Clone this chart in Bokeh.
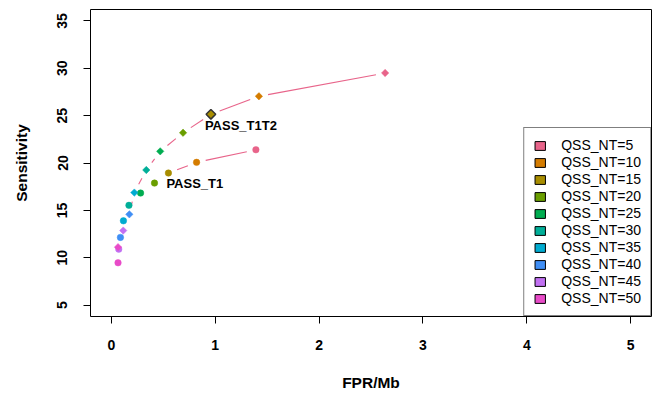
import math
import numpy as np
from bokeh.plotting import figure
from bokeh.models import Range1d, FixedTicker, Legend, LegendItem, ColumnDataSource
from bokeh.embed import file_html
from bokeh.resources import INLINE
from bokeh.core.properties import value

# ---------------- data ----------------
nt_labels = ["QSS_NT=5", "QSS_NT=10", "QSS_NT=15", "QSS_NT=20", "QSS_NT=25",
             "QSS_NT=30", "QSS_NT=35", "QSS_NT=40", "QSS_NT=45", "QSS_NT=50"]
nt_colors = ["#E8648A", "#D47C00", "#A88D00", "#6A9E00", "#00AC50",
             "#00AE98", "#00ABD0", "#3F8EF5", "#C170F2", "#E84BC8"]

t1t2_fpr = [2.636, 1.421, 0.959, 0.691, 0.471, 0.337, 0.222, 0.174, 0.115, 0.065]
t1t2_sens = [29.50, 27.04, 25.14, 23.19, 21.23, 19.26, 16.88, 14.58, 12.87, 11.12]

t1_fpr = [1.392, 0.821, 0.550, 0.416, 0.282, 0.170, 0.117, 0.088, 0.072, 0.065]
t1_sens = [21.40, 20.07, 18.94, 17.88, 16.83, 15.53, 13.90, 12.15, 10.91, 9.47]

x_ticks = [0, 1, 2, 3, 4, 5]
y_ticks = [5, 10, 15, 20, 25, 30, 35]
highlight = "QSS_NT=15"

# ---------------- layout ----------------
W, H = 660, 401
B_LEFT, B_RIGHT, B_TOP, B_BOTTOM = 90, 9, 9, 85
FW = W - B_LEFT - B_RIGHT
FH = H - B_TOP - B_BOTTOM
X0, X1 = -0.2, 5.2
Y0, Y1 = 3.8, 36.2
FONT = "Liberation Sans"

p = figure(width=W, height=H, x_range=Range1d(X0, X1), y_range=Range1d(Y0, Y1),
           output_backend="svg", toolbar_location=None,
           min_border_left=B_LEFT, min_border_right=B_RIGHT,
           min_border_top=B_TOP, min_border_bottom=B_BOTTOM)
p.grid.visible = False
p.outline_line_color = "black"
p.outline_line_width = 1
p.background_fill_color = "white"
p.border_fill_color = "white"

for ax in (p.xaxis[0], p.yaxis[0]):
    ax.axis_line_color = "black"
    ax.major_tick_line_color = "black"
    ax.major_tick_in = 0
    ax.major_tick_out = 7
    ax.minor_tick_line_color = None
    ax.major_label_text_font = FONT
    ax.major_label_text_font_style = "bold"
    ax.major_label_text_font_size = "14px"
    ax.major_label_text_color = "black"
    ax.axis_label_text_font = FONT
    ax.axis_label_text_font_style = "bold"
    ax.axis_label_text_font_size = "15.5px"
    ax.axis_label_text_color = "black"

p.xaxis.ticker = FixedTicker(ticks=x_ticks)
p.yaxis.ticker = FixedTicker(ticks=y_ticks)
p.xaxis.bounds = (x_ticks[0], x_ticks[-1])
p.yaxis.bounds = (y_ticks[0], y_ticks[-1])
p.xaxis.axis_label = "FPR/Mb"
p.yaxis.axis_label = "Sensitivity"
p.xaxis.major_label_standoff = 16
p.xaxis.axis_label_standoff = 21
p.yaxis.major_label_orientation = "vertical"
p.yaxis.major_label_standoff = 16
p.yaxis.axis_label_standoff = 25

# ---------------- gapped connecting lines (R type="b") ----------------
SX = FW / (X1 - X0)
SY = FH / (Y1 - Y0)
GAP = 9.3


def gapped(xs, ys):
    x0s, y0s, x1s, y1s = [], [], [], []
    for i in range(len(xs) - 1):
        dx = xs[i + 1] - xs[i]
        dy = ys[i + 1] - ys[i]
        d = math.hypot(dx * SX, dy * SY)
        if d > 2 * GAP:
            t = GAP / d
            x0s.append(xs[i] + t * dx)
            y0s.append(ys[i] + t * dy)
            x1s.append(xs[i + 1] - t * dx)
            y1s.append(ys[i + 1] - t * dy)
    return dict(x0=x0s, y0=y0s, x1=x1s, y1=y1s)


for fx, sy in ((t1t2_fpr, t1t2_sens), (t1_fpr, t1_sens)):
    p.segment(x0="x0", y0="y0", x1="x1", y1="y1", source=ColumnDataSource(gapped(fx, sy)),
              line_color=nt_colors[0], line_width=1.1)

# ---------------- points ----------------
hi = nt_labels.index(highlight)
idx_small = [i for i in range(len(nt_labels)) if i != hi]

p.scatter(t1_fpr, t1_sens, marker="circle", size=6.5,
          fill_color=nt_colors, line_color=nt_colors, line_width=0.5)
p.scatter([t1t2_fpr[i] for i in idx_small], [t1t2_sens[i] for i in idx_small],
          marker="square", angle=math.pi / 4, size=5.2,
          fill_color=[nt_colors[i] for i in idx_small], line_color=[nt_colors[i] for i in idx_small],
          line_width=0.5)
p.scatter([t1t2_fpr[hi]], [t1t2_sens[hi]], marker="square", angle=math.pi / 4, size=6.8,
          fill_color=nt_colors[hi], line_color="#333333", line_width=1.5)

# ---------------- labels ----------------
p.text([t1t2_fpr[hi]], [t1t2_sens[hi]], text=["PASS_T1T2"], x_offset=-6, y_offset=11,
       text_font=value(FONT), text_font_style="bold", text_font_size="13px",
       text_align="left", text_baseline="alphabetic", text_color="black")
p.text([t1_fpr[hi]], [t1_sens[hi]], text=["PASS_T1"], x_offset=-2, y_offset=10,
       text_font=value(FONT), text_font_style="bold", text_font_size="13px",
       text_align="left", text_baseline="alphabetic", text_color="black")

# ---------------- legend ----------------
items = []
for lab, col in zip(nt_labels, nt_colors):
    r = p.quad(left=[np.nan], right=[np.nan], top=[np.nan], bottom=[np.nan],
               fill_color=col, line_color="black", line_width=1)
    items.append(LegendItem(label=lab, renderers=[r]))

legend = Legend(items=items, location="bottom_right", margin=0, padding=9, spacing=1,
                border_line_color="black", border_line_width=1,
                background_fill_color="white", background_fill_alpha=1,
                glyph_width=13, glyph_height=11, label_height=12, label_standoff=15,
                label_text_font=FONT, label_text_font_size="14px", label_text_color="black")
p.add_layout(legend)

open("out.html", "w").write(file_html(p, INLINE))
